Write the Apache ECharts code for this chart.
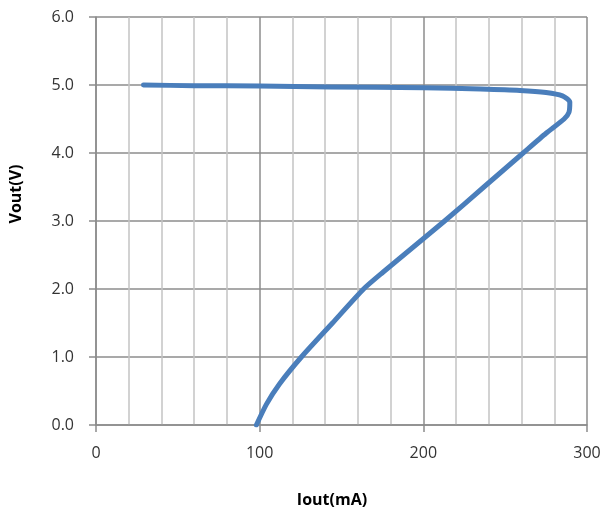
<!DOCTYPE html>
<html>
<head>
<meta charset="utf-8">
<script src="https://cdn.jsdelivr.net/npm/echarts@6/dist/echarts.min.js"></script>
<style>
html,body{margin:0;padding:0;background:#fff;}
#chart{width:607px;height:513px;}
</style>
</head>
<body>
<div id="chart"></div>
<script>
// Iout (mA) and Vout (V)
var ioutValues = [29, 60, 100, 143, 200, 235, 259, 275, 285, 289.5, 289, 286, 275, 261, 249, 237, 213, 188, 175.5, 163.5, 144.5, 125.5, 112, 104, 98];
var voutValues = [5.0, 4.99, 4.985, 4.97, 4.96, 4.94, 4.92, 4.89, 4.84, 4.75, 4.6, 4.5, 4.29, 4.0, 3.75, 3.5, 3.0, 2.5, 2.25, 2.0, 1.5, 1.0, 0.6, 0.3, 0.0];
var xTicks = [0, 100, 200, 300];
var yTicks = [0, 1, 2, 3, 4, 5, 6];
var xName = 'Iout(mA)';
var yName = 'Vout(V)';

var points = ioutValues.map(function (x, i) { return [x, voutValues[i]]; });
var font = '"Open Sans", "Liberation Sans", sans-serif';

var chart = echarts.init(document.getElementById('chart'), null, {renderer: 'canvas'});
chart.setOption({
  animation: false,
  backgroundColor: '#ffffff',
  grid: {left: 96, top: 17, width: 491, height: 408, containLabel: false},
  xAxis: [{
    type: 'value', min: 0, max: 300, interval: 100,
    axisLine: {show: true, lineStyle: {color: '#8c8c8c', width: 1.5}},
    axisTick: {show: true, length: 7, lineStyle: {color: '#8c8c8c', width: 1.5}},
    axisLabel: {margin: 20, fontSize: 16, color: '#333', fontFamily: font,
      formatter: function (v) { return xTicks.indexOf(v) >= 0 ? String(v) : ''; }},
    splitLine: {show: true, lineStyle: {color: '#8c8c8c', width: 1.5}},
    minorTick: {show: false, splitNumber: 5},
    minorSplitLine: {show: true, lineStyle: {color: '#c4c4c4', width: 1.5}}
  }],
  yAxis: [{
    type: 'value', min: 0, max: 6, interval: 1,
    axisLine: {show: true, lineStyle: {color: '#8c8c8c', width: 1.5}},
    axisTick: {show: true, length: 7, lineStyle: {color: '#8c8c8c', width: 1.5}},
    axisLabel: {margin: 22, fontSize: 16, color: '#333', fontFamily: font,
      formatter: function (v) { return yTicks.indexOf(v) >= 0 ? v.toFixed(1) : ''; }},
    splitLine: {show: true, lineStyle: {color: '#8c8c8c', width: 1.5}}
  }],
  graphic: [
    {type: 'text', x: 332, y: 500, style: {text: xName, fontSize: 16, fontWeight: 'bold', fontFamily: font, fill: '#000', align: 'center', verticalAlign: 'middle'}},
    {type: 'text', rotation: Math.PI / 2, x: 16, y: 194, style: {text: yName, fontSize: 16, fontWeight: 'bold', fontFamily: font, fill: '#000', align: 'center', verticalAlign: 'middle'}}
  ],
  series: [{
    type: 'line',
    data: points,
    smooth: 0.2,
    showSymbol: false,
    symbol: 'none',
    lineStyle: {color: '#4a7ebb', width: 5, cap: 'round', join: 'round'}
  }]
});
</script>
</body>
</html>
